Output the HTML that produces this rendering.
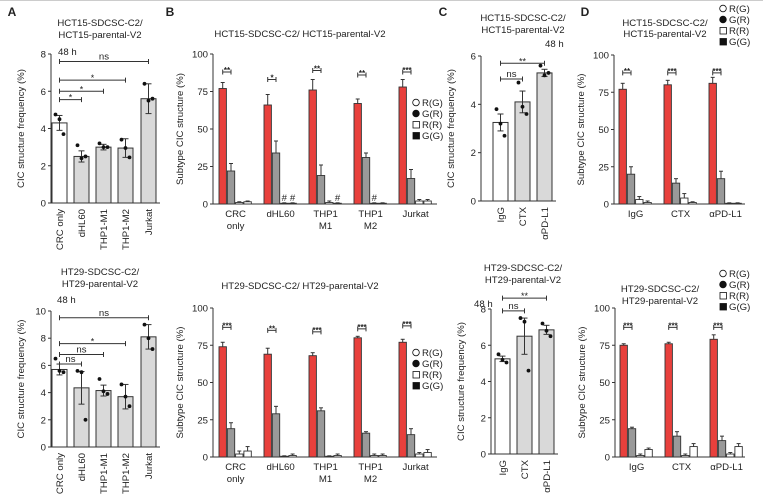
<!DOCTYPE html>
<html><head><meta charset="utf-8"><style>
body{margin:0;background:#fff}
svg{display:block;font-family:"Liberation Sans",Arial,sans-serif}
</style></head><body>
<svg id="s" width="763" height="499" viewBox="0 0 763 499">
<rect width="763" height="499" fill="#fff"/>
<line x1="0" y1="0.5" x2="763" y2="0.5" stroke="#ccc"/>
</svg>
<script>
// ---- data ----
const freqCats = ["CRC only","dHL60","THP1-M1","THP1-M2","Jurkat"];
const aTopVals = [4.3,2.5,3.0,2.95,5.6];
const aTopErr = [0.4,0.3,0.15,0.5,0.8];
const aTopPts = [[4.75,4.5,3.7],[3.1,2.4,2.5],[3.2,3.0,3.0],[3.4,2.95,2.45],[6.4,5.5,5.6]];
const aBotVals = [5.7,4.35,4.15,3.7,8.1];
const aBotErr = [0.4,1.2,0.4,0.9,0.9];
const aBotPts = [[6.5,5.6,5.5],[5.6,5.5,2.0],[5.0,4.1,3.9],[4.6,3.7,3.0],[9.0,8.0,7.2]];
const subCats = ["CRC|only","dHL60","THP1|M1","THP1|M2","Jurkat"];
const subSeries = ["R(G)","G(R)","R(R)","G(G)"];
const bTopVals = [[77,22,1,1.5],[66,34,0.5,0.5],[76,19,1,0.5],[67,31,0.5,0.5],[78,17,2,2]];
const bTopErr = [[4,5,0.5,0.5],[7,8,0.3,0.3],[7,7,1,0.3],[3,3,0.3,0.3],[5,6,1,1]];
const bBotVals = [[74,19,2,4],[69,29,0.5,1],[68,31,0.5,1],[80,16,1,1],[77,15,2,3]];
const bBotErr = [[3,4,2,3],[4,5,0.3,1],[2,2,0.3,1],[1,1,1,1],[2,4,1,2]];
const trtCats = ["IgG","CTX","\u03b1PD-L1"];
const cTopVals = [3.25,4.1,5.3];
const cTopErr = [0.35,0.45,0.15];
const cTopPts = [[3.8,3.2,2.7],[4.9,3.9,3.6],[5.6,5.2,5.3]];
const cBotVals = [5.25,6.5,6.85];
const cBotErr = [0.15,1,0.25];
const cBotPts = [[5.5,5.2,5.05],[7.5,7.3,4.6],[7.2,6.8,6.5]];
const dTopVals = [[77,20,3,1],[80,14,4,1],[81,17,0.5,0.5]];
const dTopErr = [[4,5,2,1],[3,3,3,0.5],[4,5,0.3,0.3]];
const dBotVals = [[75,19,1,5],[76,14,1,7],[79,11,2,7]];
const dBotErr = [[1,1,1,1],[1,3,1,2],[3,3,1,2]];

const S=document.getElementById('s');const NS="http://www.w3.org/2000/svg";
const FS=9.6;
function el(t,a,txt){const e=document.createElementNS(NS,t);for(const k in a)e.setAttribute(k,a[k]);if(txt!==undefined)e.textContent=txt;S.appendChild(e);return e;}
function tx(x,y,s,o){o=o||{};const e=el('text',{x:x,y:y,'font-size':o.fs||FS,'text-anchor':o.a||'middle',fill:'#222','font-weight':o.w||'normal',transform:o.tr||''},s);

return e;}
function ln(x1,y1,x2,y2,n,w){const e=el('line',{x1,y1,x2,y2,stroke:'#333','stroke-width':w||1});

return e;}

function freqPanel(o){
  const ys=v=>o.y0-(o.y0-o.yTop)*v/o.max;
  ln(o.ax,o.y0,o.ax,o.yTop,'y-axis');
  ln(o.ax,o.y0,o.xEnd,o.y0,'x-axis');
  for(let t=0;t<=o.max;t+=o.step){ln(o.ax-3,ys(t),o.ax,ys(t),'y-tick');tx(o.ax-5,ys(t)+3.5,String(t),{a:'end',n:'y-tick-label'});}
  tx(o.ax-27,(o.y0+o.yTop)/2,"CIC structure frequency (%)",{tr:`rotate(-90 ${o.ax-27} ${(o.y0+o.yTop)/2})`,n:'y-axis-title'});
  o.vals.forEach((v,i)=>{
    const x=o.bx[i],cx=x+o.bw/2;
    const r=el('rect',{x:x,y:ys(v),width:o.bw,height:o.y0-ys(v),fill:i==0?'#fff':'#d9d9d9',stroke:'#333','stroke-width':1});
    
    
    const e=o.err[i];ln(cx,ys(v+e),cx,ys(v-e),'error-bar');ln(cx-3,ys(v+e),cx+3,ys(v+e),'error-cap');ln(cx-3,ys(v-e),cx+3,ys(v-e),'error-cap');
    o.pts[i].forEach((p,j)=>{const c=el('circle',{cx:cx+(j-1)*4,cy:ys(p),r:1.9,fill:'#111'});
      
      });
    tx(cx+3.5,o.y0+6,o.cats[i],{a:'end',tr:`rotate(-90 ${cx+3.5} ${o.y0+6})`,n:'x-tick-label'});
  });
  o.sig.forEach(s=>{const y=ys(s[2]);const x1=o.bx[s[0]]+o.bw/2,x2=o.bx[s[1]]+o.bw/2;
    ln(x1,y,x2,y,'sig-bracket');ln(x1,y-2.5,x1,y+2.5,'sig-cap');ln(x2,y-2.5,x2,y+2.5,'sig-cap');
    tx((x1+x2)/2,y-(s[3]=='ns'?2:-1),s[3],{fs:s[3]=='ns'?FS:9,n:'sig-label'});});
}
function subPanel(o){
  const ys=v=>o.y0-(o.y0-o.yTop)*v/100;
  const colors=['#e8403c','#999','#fff','#fff'];
  ln(o.ax,o.y0,o.ax,o.yTop,'y-axis');ln(o.ax,o.y0,o.xEnd,o.y0,'x-axis');
  [0,25,50,75,100].forEach(t=>{ln(o.ax-3,ys(t),o.ax,ys(t),'y-tick');tx(o.ax-5,ys(t)+3.5,String(t),{a:'end',n:'y-tick-label'});});
  tx(o.ax-30,(o.y0+o.yTop)/2,"Subtype CIC structure (%)",{tr:`rotate(-90 ${o.ax-30} ${(o.y0+o.yTop)/2})`,n:'y-axis-title'});
  o.vals.forEach((g,gi)=>{
    const gx=o.gx0+gi*o.gs;
    g.forEach((v,si)=>{const x=gx+si*8.3,cx=x+3.7;
      const r=el('rect',{x:x,y:ys(v),width:7.4,height:Math.max(0.5,o.y0-ys(v)),fill:colors[si],stroke:'#333','stroke-width':0.9});
      
      
      const e=o.err[gi][si];ln(cx,ys(v+e),cx,ys(v),'error-bar');ln(cx-2,ys(v+e),cx+2,ys(v+e),'error-cap');});
    const lab=o.cats[gi].split('|');const lc=gx+8.3*2;
    lab.forEach((l,k)=>tx(lc,o.y0+13+k*12,l,{n:'x-tick-label'}));
    const sy=ys(o.sigY[gi]);ln(gx+3.7,sy,gx+12,sy,'sig-bracket');ln(gx+3.7,sy-2.5,gx+3.7,sy+2.5,'sig-cap');ln(gx+12,sy-2.5,gx+12,sy+2.5,'sig-cap');
    tx(gx+8,sy+1,o.sig[gi],{fs:8,w:'bold',n:'sig-label'});
    if(o.hash&&o.hash[gi])o.hash[gi].forEach(si=>tx(gx+si*8.3+3.7,o.y0-3,'#',{n:'hash-mark'}));
  });
}
function legend(x,y){
  subSeries.forEach((s,i)=>{const yy=y+i*11;
    let m;
    if(i<2)m=el('circle',{cx:x,cy:yy-3.5,r:3.3,fill:i==1?'#111':'#fff',stroke:'#111','stroke-width':0.8});
    else m=el('rect',{x:x-3,y:yy-6.5,width:6.5,height:6.5,fill:i==3?'#111':'#fff',stroke:'#111','stroke-width':0.8});
    
    
    tx(x+6,yy,s,{a:'start',n:'legend-entry'});});
}
// panel letters
tx(12,16,'A',{fs:12,w:'bold',n:'panel-letter-a'});tx(170,16,'B',{fs:12,w:'bold',n:'panel-letter-b'});
tx(443,16,'C',{fs:12,w:'bold',n:'panel-letter-c'});tx(585,16,'D',{fs:12,w:'bold',n:'panel-letter-d'});
// titles
tx(100,26,'HCT15-SDCSC-C2/',{n:'chart-title'});tx(100,38,'HCT15-parental-V2',{n:'chart-title'});
tx(300,37,'HCT15-SDCSC-C2/ HCT15-parental-V2',{n:'chart-title'});
tx(523,21,'HCT15-SDCSC-C2/',{n:'chart-title'});tx(523,33,'HCT15-parental-V2',{n:'chart-title'});
tx(665,26,'HCT15-SDCSC-C2/',{n:'chart-title'});tx(665,37,'HCT15-parental-V2',{n:'chart-title'});
tx(100,275,'HT29-SDCSC-C2/',{n:'chart-title'});tx(100,287,'HT29-parental-V2',{n:'chart-title'});
tx(300,289,'HT29-SDCSC-C2/ HT29-parental-V2',{n:'chart-title'});
tx(523,271,'HT29-SDCSC-C2/',{n:'chart-title'});tx(523,283,'HT29-parental-V2',{n:'chart-title'});
tx(660,292,'HT29-SDCSC-C2/',{n:'chart-title'});tx(660,304,'HT29-parental-V2',{n:'chart-title'});
tx(58,55,'48 h',{a:'start',n:'time-label'});tx(57,303,'48 h',{a:'start',n:'time-label'});
tx(545,47,'48 h',{a:'start',n:'time-label'});tx(474,307,'48 h',{a:'start',n:'time-label'});

const bxA=[52,74,96,118,141];
freqPanel({ax:51,y0:203,yTop:54,max:8,step:2,xEnd:160,bx:bxA,bw:15,cats:freqCats,vals:aTopVals,err:aTopErr,pts:aTopPts,
  sig:[[0,4,7.6,'ns'],[0,3,6.6,'*'],[0,2,6.0,'*'],[0,1,5.55,'*']]});
freqPanel({ax:51,y0:447,yTop:311,max:10,step:2,xEnd:160,bx:bxA,bw:15,cats:freqCats,vals:aBotVals,err:aBotErr,pts:aBotPts,
  sig:[[0,4,9.5,'ns'],[0,3,7.6,'*'],[0,2,6.8,'ns'],[0,1,6.1,'ns']]});
subPanel({ax:213,y0:204,yTop:54,xEnd:437,gx0:219,gs:45,cats:subCats,vals:bTopVals,err:bTopErr,
  sigY:[88,83,89,86,88],sig:['**','*','**','**','***'],hash:[null,[2,3],[3],[2],null]});
subPanel({ax:213,y0:457,yTop:308,xEnd:437,gx0:219,gs:45,cats:subCats,vals:bBotVals,err:bBotErr,
  sigY:[87,85,84,86,88],sig:['***','**','***','***','***']});
legend(416,106);legend(416,356);
const bxC=[493,515,537];
freqPanel({ax:481,y0:201,yTop:56,max:6,step:2,xEnd:556,bx:bxC,bw:15,cats:trtCats,vals:cTopVals,err:cTopErr,pts:cTopPts,
  sig:[[0,2,5.7,'**'],[0,1,5.05,'ns']]});
freqPanel({ax:491,y0:454,yTop:309,max:8,step:2,xEnd:558,bx:[495,517,539],bw:15,cats:trtCats,vals:cBotVals,err:cBotErr,pts:cBotPts,
  sig:[[0,2,8.6,'**'],[0,1,7.9,'ns']]});
subPanel({ax:614,y0:204,yTop:55,xEnd:745,gx0:619,gs:45,cats:trtCats,vals:dTopVals,err:dTopErr,
  sigY:[88,88,88],sig:['**','***','***']});
subPanel({ax:615,y0:457,yTop:308,xEnd:745,gx0:620,gs:45,cats:trtCats,vals:dBotVals,err:dBotErr,
  sigY:[87,87,87],sig:['***','***','***']});
legend(723,12);legend(723,277);
</script>
</body></html>
